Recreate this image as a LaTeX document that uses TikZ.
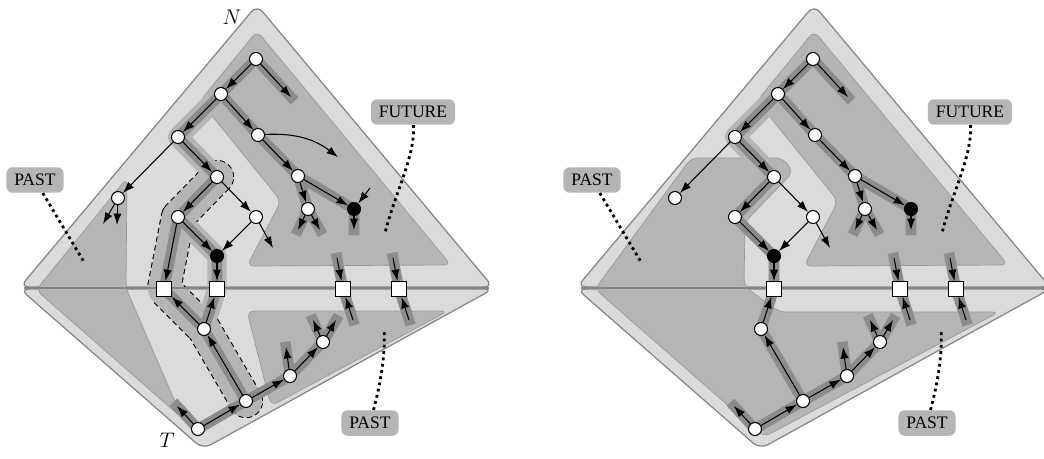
\documentclass[tikz,border=0pt]{standalone}
\usepackage{amsmath}
\usepackage{amssymb}
\usepackage{fontspec}
\usepackage{tikz}
\usetikzlibrary{arrows.meta,backgrounds}

\newfontfamily\tagfont{Liberation Serif}

\definecolor{lite}{gray}{0.86}
\definecolor{midgray}{gray}{0.71}
\definecolor{darkband}{gray}{0.55}
\definecolor{rim}{gray}{0.52}

\pgfdeclarelayer{regions}
\pgfdeclarelayer{bands}
\pgfsetlayers{regions,bands,main}

\tikzset{
  vtx/.style={circle,draw,fill=white,inner sep=0pt,minimum size=7.4pt,line width=0.6pt},
  sink/.style={vtx,fill=black},
  cut/.style={rectangle,draw,fill=white,inner sep=0pt,minimum size=8.4pt,line width=0.6pt},
  kite/.style={fill=lite,draw=rim,line width=0.7pt,rounded corners=5pt},
  zone/.style={fill=midgray,draw=gray!80,line width=0.4pt,rounded corners=4pt},
  seam/.style={draw=rim,line width=0.6pt},
  hl/.style={draw=darkband,line width=6pt,line join=miter,line cap=rect},
  strip/.style={draw=midgray,line width=11.5pt,line join=round,line cap=round},
  link/.style={->,line width=0.6pt},
  tag/.style={fill=midgray,rounded corners=3.5pt,minimum height=14.5pt,inner xsep=4.5pt,inner ysep=0pt,font=\tagfont},
  pointer/.style={line width=1.6pt,dotted},
}

\newcommand{\basetree}{%
  \node[vtx]  (a1)  at (256,59)  {};
  \node[vtx]  (a2)  at (221,94)  {};
  \node[vtx]  (a3)  at (178,137) {};
  \node[vtx]  (a4)  at (258,135) {};
  \node[vtx]  (a5)  at (217,177) {};
  \node[vtx]  (a6)  at (298,176) {};
  \node[vtx]  (a7)  at (118,198) {};
  \node[vtx]  (a8)  at (178,217) {};
  \node[vtx]  (a9)  at (256,217) {};
  \node[vtx]  (a10) at (308,209) {};
  \node[sink] (b1)  at (354,209) {};
  \node[sink] (b2)  at (217,256) {};
  \node[cut]  (s2)  at (217,289) {};
  \node[cut]  (s3)  at (343,289) {};
  \node[cut]  (s4)  at (399,289) {};
  \node[vtx]  (c1)  at (204,329) {};
  \node[vtx]  (c2)  at (246,401) {};
  \node[vtx]  (c3)  at (198,429) {};
  \node[vtx]  (c4)  at (290,376) {};
  \node[vtx]  (c5)  at (323,342) {};
  \coordinate (f1) at (291,97);
  \coordinate (f2) at (298,230);
  \coordinate (f3) at (320,230);
  \coordinate (f4) at (354,230);
  \coordinate (f5) at (273,248);
  \coordinate (t3) at (337,258);
  \coordinate (u3) at (353,320);
  \coordinate (t4) at (393,258);
  \coordinate (u4) at (409,320);
  \coordinate (h1) at (177,406);
  \coordinate (h2) at (286,347);
  \coordinate (h3) at (313,320);
  \coordinate (h4) at (336,320);
  \begin{pgfonlayer}{regions}
    \draw[kite] (20,287) -- (257,5) -- (493,287) -- cycle;
    \draw[kite] (20,289) -- (493,289) -- (203,449) -- cycle;
    \draw[zone] (257,31) -- (451,265) -- (247,266) -- (281,201) -- (200,101) -- cycle;
  \end{pgfonlayer}
  \begin{pgfonlayer}{bands}
    \draw[seam] (24,288) -- (489,288);
    \draw[strip] (a2.center) -- (a3.center) -- (a5.center);
    \draw[hl] (f1) -- (a1.center) -- (a2.center) -- (a3.center) -- (a5.center) -- (a8.center) -- (b2.center)
      -- (s2.center) -- (c1.center) -- (c2.center) -- (c3.center) -- (h1);
    \draw[hl] (a2.center) -- (a4.center) -- (a6.center) -- (b1.center) -- (f4);
    \draw[hl] (a6.center) -- (a10.center) -- (f2);
    \draw[hl] (a10.center) -- (f3);
    \draw[hl] (c2.center) -- (c4.center) -- (c5.center) -- (h3);
    \draw[hl] (c5.center) -- (h4);
    \draw[hl] (c4.center) -- (h2);
    \draw[hl] (t3) -- (s3.center) -- (u3);
    \draw[hl] (t4) -- (s4.center) -- (u4);
  \end{pgfonlayer}
  \path[link]
    (a1) edge (a2) edge (f1)
    (a2) edge (a3) edge (a4)
    (a3) edge (a7) edge (a5)
    (a4) edge (a6)
    (a5) edge (a8) edge (a9)
    (a6) edge (a10) edge (b1)
    (a10) edge (f2) edge (f3)
    (b1) edge (f4)
    (a8) edge (b2)
    (a9) edge (b2) edge (f5)
    (b2) edge (s2)
    (t3) edge (s3) (u3) edge (s3)
    (t4) edge (s4) (u4) edge (s4)
    (c1) edge (s2)
    (c2) edge (c1) edge (c4)
    (c3) edge (c2) edge (h1)
    (c4) edge (c5) edge (h2)
    (c5) edge (h3) edge (h4);
  \node[tag] (past1) at (35,180) {PAST};
  \node[tag] (future1) at (413,112) {FUTURE};
  \node[tag] (past2) at (370,423) {PAST};
  \coordinate (p1) at (84,262);
  \coordinate (p2) at (385,233);
  \coordinate (p3) at (384,329);
  \draw[pointer] (past1) -- (p1);
  \draw[pointer] (future1) .. controls +(2,45) and +(10,-40) .. (p2);
  \draw[pointer] (past2) .. controls +(8,-30) and +(2,30) .. (p3);
}

\begin{document}
\begin{tikzpicture}[x=0.02cm,y=-0.02cm,>={Latex[length=6.5pt,width=4.6pt]}]
  \useasboundingbox (0,0) rectangle (1044,458);

  \basetree
  \node[cut] (s1) at (164,289) {};
  \coordinate (f6) at (103,224);
  \coordinate (f7) at (117,225);
  \coordinate (g1) at (370,188);
  \coordinate (g2) at (338,157);
  \begin{pgfonlayer}{regions}
    \draw[zone] (127,178) -- (126,288) -- (182,418) -- (36,290) -- cycle;
    \draw[zone] (247,311) -- (448,311) -- (271,406) -- cycle;
    \draw[dash pattern=on 3pt off 2pt,line width=0.6pt,fill=midgray] (a5.center) circle (9.45pt);
    \draw[dash pattern=on 3pt off 2pt,line width=0.6pt,fill=midgray] (c2.center) circle (9.45pt);
    \draw[dash pattern=on 3pt off 2pt,line width=19.5pt,line join=round]
      (a5.center) -- (a8.center) -- (s1.center) -- (c1.center) -- (c2.center);
    \draw[draw=midgray,line width=18.3pt,line join=round,line cap=round]
      (a5.center) -- (a8.center) -- (s1.center) -- (c1.center) -- (c2.center);
    \draw[draw=midgray,line width=11pt,line join=round,line cap=round]
      (a8.center) -- (b2.center) -- (s2.center) -- (c1.center);
  \end{pgfonlayer}
  \begin{pgfonlayer}{bands}
    \draw[hl] (a8.center) -- (s1.center) -- (c1.center);
  \end{pgfonlayer}
  \path[link]
    (a8) edge (s1)
    (c1) edge (s1)
    (a7) edge (f6) edge (f7)
    (g1) edge (b1)
    (a4) edge[bend left=20] (g2);
  \node (nlab) at (232,17) {\large $N$};
  \node (tlab) at (167,440) {\large $T$};

  \begin{scope}[shift={(557,0)},name prefix=r-]
    \basetree
    \begin{pgfonlayer}{regions}
      \draw[zone] (134,158) -- (226,158) -- (236,172) -- (188,222) -- (187,286) -- (222,312)
        -- (442,312) -- (207,437) -- (38,289) -- cycle;
    \end{pgfonlayer}
  \end{scope}
\end{tikzpicture}
\end{document}
